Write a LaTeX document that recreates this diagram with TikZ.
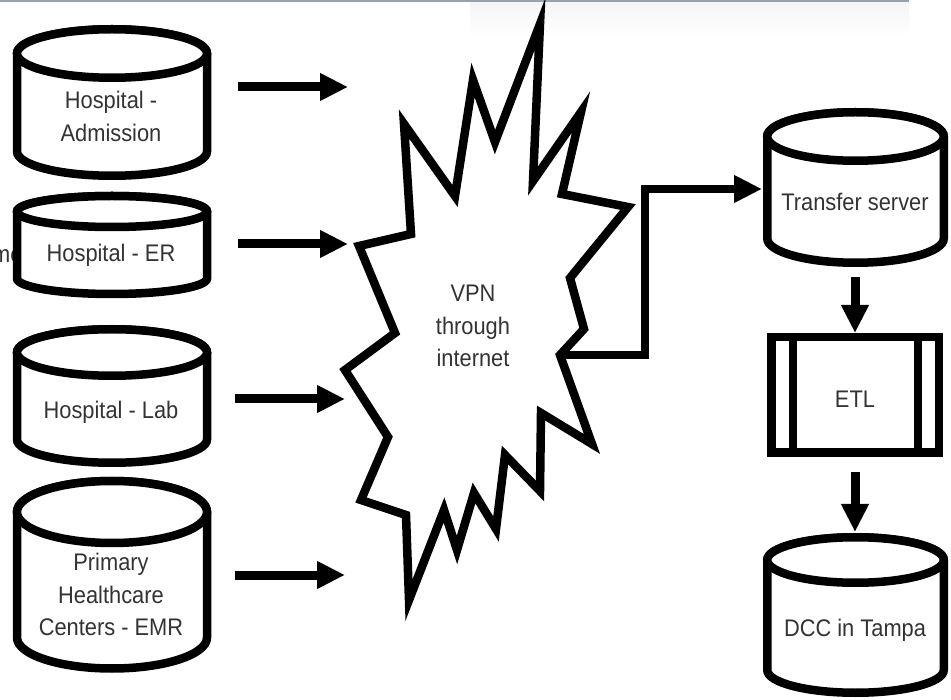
\documentclass[tikz,border=0pt]{standalone}
\usepackage{fontspec}
\usepackage{tikz}
\usetikzlibrary{arrows.meta}
\newfontfamily\diagfont[FakeStretch=0.91]{Liberation Sans}
\definecolor{barline}{RGB}{150,163,170}

\begin{document}
\begin{tikzpicture}[x=1pt, y=-1pt,
        drum/.style={line width=8.5pt, fill=white},
        txt/.style={font=\diagfont\fontsize{24}{32.5}\selectfont, text=black!80, align=center, inner sep=0pt},
        flow/.style={line width=9pt, -{Triangle[length=28pt, width=26pt]}},
        burst/.style={line width=8.5pt, fill=white, line join=miter}]
            \useasboundingbox (0,0) rectangle (951,700);

            % window edge at the top
            \shade[top color=black!4, bottom color=white] (470,2) rectangle (909,36);
            \draw[barline, line width=2pt] (0,1) -- (909,1);

            % sources
            \node[txt, anchor=base west] (cut) at (-8,263) {me};

            \filldraw[drum] (17,53.5) -- (17,151.5) arc[start angle=180, end angle=0, x radius=95, y radius=24.25] -- (207,53.5) arc[start angle=360, end angle=180, x radius=95, y radius=24.25] -- cycle;
            \draw[drum] (112,53.5) ellipse[x radius=95, y radius=24.25];

            \filldraw[drum] (17,211.5) -- (17,278.5) arc[start angle=180, end angle=0, x radius=95, y radius=15.5] -- (207,211.5) arc[start angle=360, end angle=180, x radius=95, y radius=15.5] -- cycle;
            \draw[drum] (112,211.5) ellipse[x radius=95, y radius=15.5];

            \filldraw[drum] (17,352.5) -- (17,439.5) arc[start angle=180, end angle=0, x radius=95, y radius=23.25] -- (207,352.5) arc[start angle=360, end angle=180, x radius=95, y radius=23.25] -- cycle;
            \draw[drum] (112,352.5) ellipse[x radius=95, y radius=23.25];

            \filldraw[drum] (17,512) -- (17,637.5) arc[start angle=180, end angle=0, x radius=95, y radius=31] -- (207,512) arc[start angle=360, end angle=180, x radius=95, y radius=31] -- cycle;
            \draw[drum] (112,512) ellipse[x radius=95, y radius=31];

            \node[txt] (adm) at (111,116.5) {Hospital -\\Admission};
            \node[txt] (er) at (111,255) {Hospital - ER};
            \node[txt] (lab) at (111,412) {Hospital - Lab};
            \node[txt] (emr) at (111,594.5) {Primary\\Healthcare\\Centers - EMR};

            % network
            \filldraw[burst] (359,246) -- (411,234) -- (404,124) -- (455,196) -- (473,80) -- (495,142)
                -- (540,24) -- (533,181) -- (581,112) -- (562,194) -- (628,207) -- (570,278)
                -- (584,329) -- (560,355) -- (592,444) -- (541,413) -- (540,491) -- (505,455)
                -- (496,529) -- (474,493) -- (457,550) -- (444,510) -- (409,600) -- (406,515)
                -- (361,500) -- (388,437) -- (345,370) -- (395,333) -- cycle;
            \node[txt] (vpn) at (473,326) {VPN\\through\\internet};
            \coordinate (vpnout) at (560,355);

            \coordinate (admout) at (238,87);
            \coordinate (erout) at (238,244);
            \coordinate (labout) at (235,399);
            \coordinate (emrout) at (235,575);
            \coordinate (vpnin1) at (348,87);
            \coordinate (vpnin2) at (348,244);
            \coordinate (vpnin3) at (345,399);
            \coordinate (vpnin4) at (345,575);

            \draw[flow] (admout) -- (vpnin1);
            \draw[flow] (erout) -- (vpnin2);
            \draw[flow] (labout) -- (vpnin3);
            \draw[flow] (emrout) -- (vpnin4);

            % destination side
            \filldraw[drum] (767.25,136.5) -- (767.25,238.5) arc[start angle=180, end angle=0, x radius=88.25, y radius=24.25] -- (943.75,136.5) arc[start angle=360, end angle=180, x radius=88.25, y radius=24.25] -- cycle;
            \draw[drum] (855.5,136.5) ellipse[x radius=88.25, y radius=24.25];

            \filldraw[drum] (767.25,560) -- (767.25,670) arc[start angle=180, end angle=0, x radius=88.25, y radius=22.75] -- (943.75,560) arc[start angle=360, end angle=180, x radius=88.25, y radius=22.75] -- cycle;
            \draw[drum] (855.5,560) ellipse[x radius=88.25, y radius=22.75];

            \node[txt] (tsrv) at (855,202) {Transfer server};
            \node[txt] (dcc) at (855,630) {DCC in Tampa};

            \node[txt, draw, line width=8.5pt, minimum width=167.5pt, minimum height=115.5pt, text height=30pt, text depth=5pt] (etl) at (855,395) {ETL};
            \draw[line width=8.5pt] ([xshift=26pt]etl.north west) -- ([xshift=26pt]etl.south west);
            \draw[line width=8.5pt] ([xshift=-25pt]etl.north east) -- ([xshift=-25pt]etl.south east);

            \coordinate (tsin) at (762,189);
            \coordinate (tsout) at (855,277);
            \coordinate (dcctop) at (855,532);

            \draw[flow, line width=8.5pt] (vpnout) -- ++(85,0) |- (tsin);
            \draw[flow] (tsout) -- (etl.north);
            \draw[flow, shorten <=15pt] (etl.south) -- (dcctop);
        \end{tikzpicture}
\end{document}
